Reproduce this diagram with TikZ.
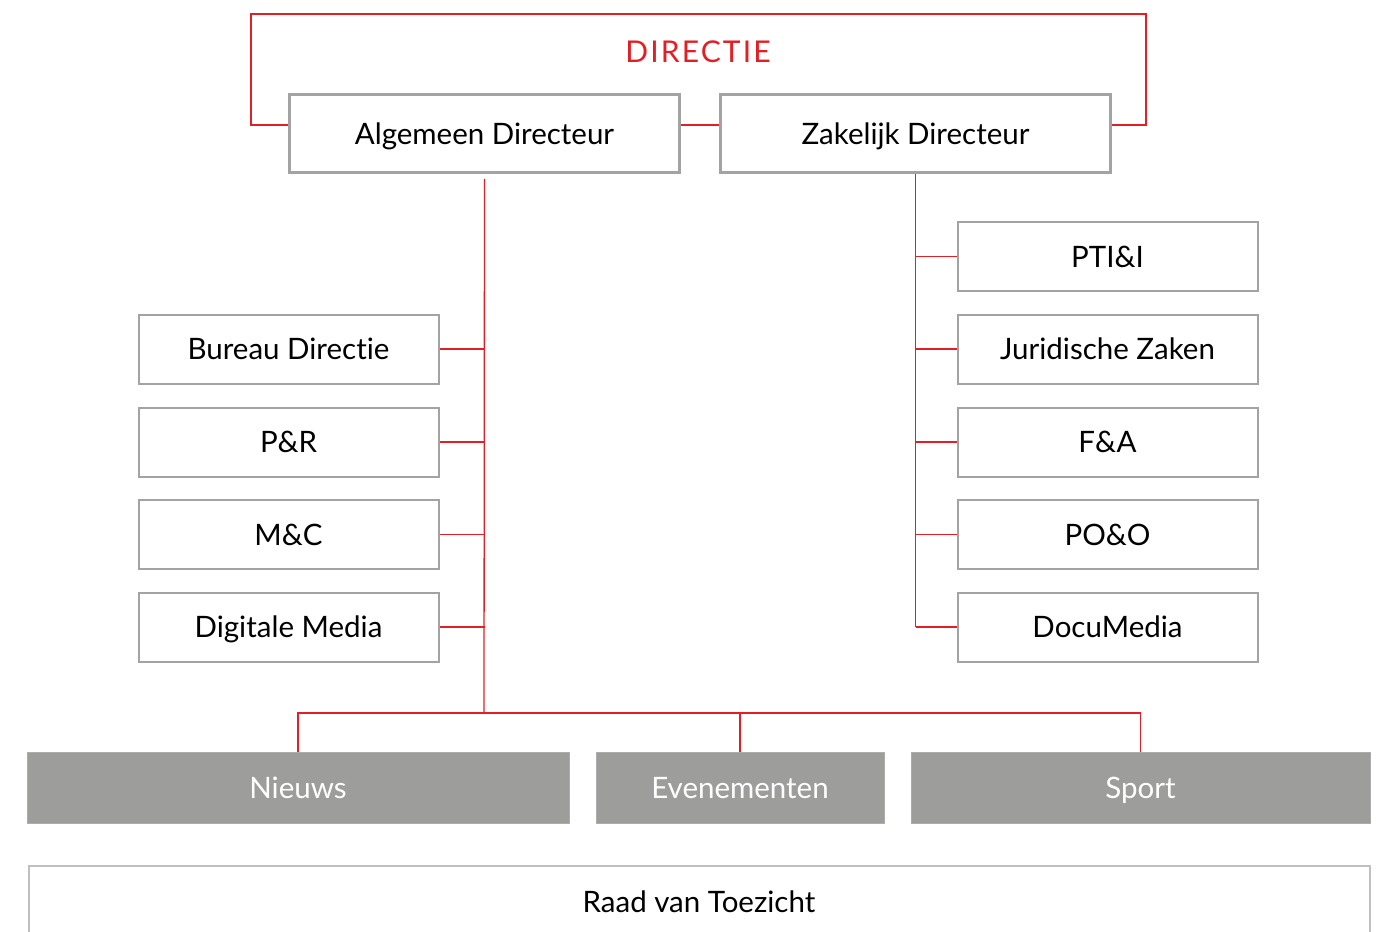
\documentclass[tikz,border=0pt]{standalone}
\usepackage{fontspec}
\setmainfont{Lato}[Ligatures=NoCommon]
\usetikzlibrary{positioning}
\usepackage{xcolor}
\definecolor{dirred}{RGB}{227,30,36}
\definecolor{boxgray}{RGB}{163,163,163}
\definecolor{unitgray}{RGB}{157,157,155}
\definecolor{raadgray}{RGB}{192,192,192}
\tikzset{boxtext/.style={inner sep=0pt, text height=21pt, text depth=0pt, font=\fontsize{29.5}{34}\selectfont},
dirnode/.style={boxtext, draw=boxgray, line width=2.5pt, fill=white, minimum width=390pt, minimum height=78pt},
staffnode/.style={boxtext, draw=boxgray, line width=2pt, fill=white, minimum width=300pt, minimum height=69pt},
unitnode/.style={boxtext, fill=unitgray, draw=unitgray!85, line width=1pt, text=white, minimum height=71pt},
bracketline/.style={draw=dirred, line width=2.5pt},
redline/.style={draw=dirred, line width=1.3pt}}

\begin{document}
\begin{tikzpicture}[x=1pt, y=-1pt]
        \useasboundingbox (0,0) rectangle (1382,932);
        % Directie
        \node[dirnode] (algemeen) at (484.5,133.5) {Algemeen Directeur};
        \node[dirnode] (zakelijk) at (915.5,133.5) {Zakelijk Directeur};
        \node[text=dirred, font=\fontsize{30}{34}\selectfont\addfontfeature{LetterSpace=7}] (directie) at (698,52) {DIRECTIE};
        \coordinate (dirtl) at (251,14);
        \coordinate (dirtr) at (1146,14);
        \draw[bracketline] ([yshift=8.5pt]algemeen.west) -| (dirtl) -- (dirtr) |- ([yshift=8.5pt]zakelijk.east);
        \draw[bracketline] ([yshift=8.5pt]algemeen.east) -- ([yshift=8.5pt]zakelijk.west);
        % Staf algemeen directeur
        \foreach \name/\label/\y in {
            bureau/Bureau Directie/349,
            pr/P\&R/442,
            mc/M\&C/534.5,
            digitaal/Digitale Media/627} {
            \node[staffnode] (\name) at (288.5,\y) {\label};
            \draw[redline] (\name.east) -- (\name.east -| algemeen.south);
        }
        % Staf zakelijk directeur
        \foreach \name/\label/\y in {
            ptii/PTI\&I/256.5,
            juridisch/Juridische Zaken/349,
            fa/F\&A/442,
            poo/PO\&O/534.5,
            documedia/DocuMedia/627} {
            \node[staffnode] (\name) at (1107.5,\y) {\label};
            \draw[redline] (\name.west) -- (\name.west -| zakelijk.south);
        }
        \draw[redline] (zakelijk.south) -- (zakelijk.south |- documedia.west);
        % Redacties
        \node[unitnode, minimum width=542pt] (nieuws) at (298,788) {Nieuws};
        \node[unitnode, minimum width=288pt] (evenementen) at (740,788) {Evenementen};
        \node[unitnode, minimum width=459pt] (sport) at (1140.5,788) {Sport};
        \coordinate (bus) at (484,713);
        \draw[redline] ([yshift=-5pt]algemeen.south) -- (bus);
        \draw[redline] (nieuws.north) |- (sport.north |- bus) -- (sport.north);
        \draw[redline] (evenementen.north) -- (evenementen.north |- bus);
        % Raad van Toezicht
        \node[boxtext, draw=raadgray, line width=2pt, minimum width=1341pt, minimum height=72pt] (raad) at (699,902) {Raad van Toezicht};
    \end{tikzpicture}
\end{document}
